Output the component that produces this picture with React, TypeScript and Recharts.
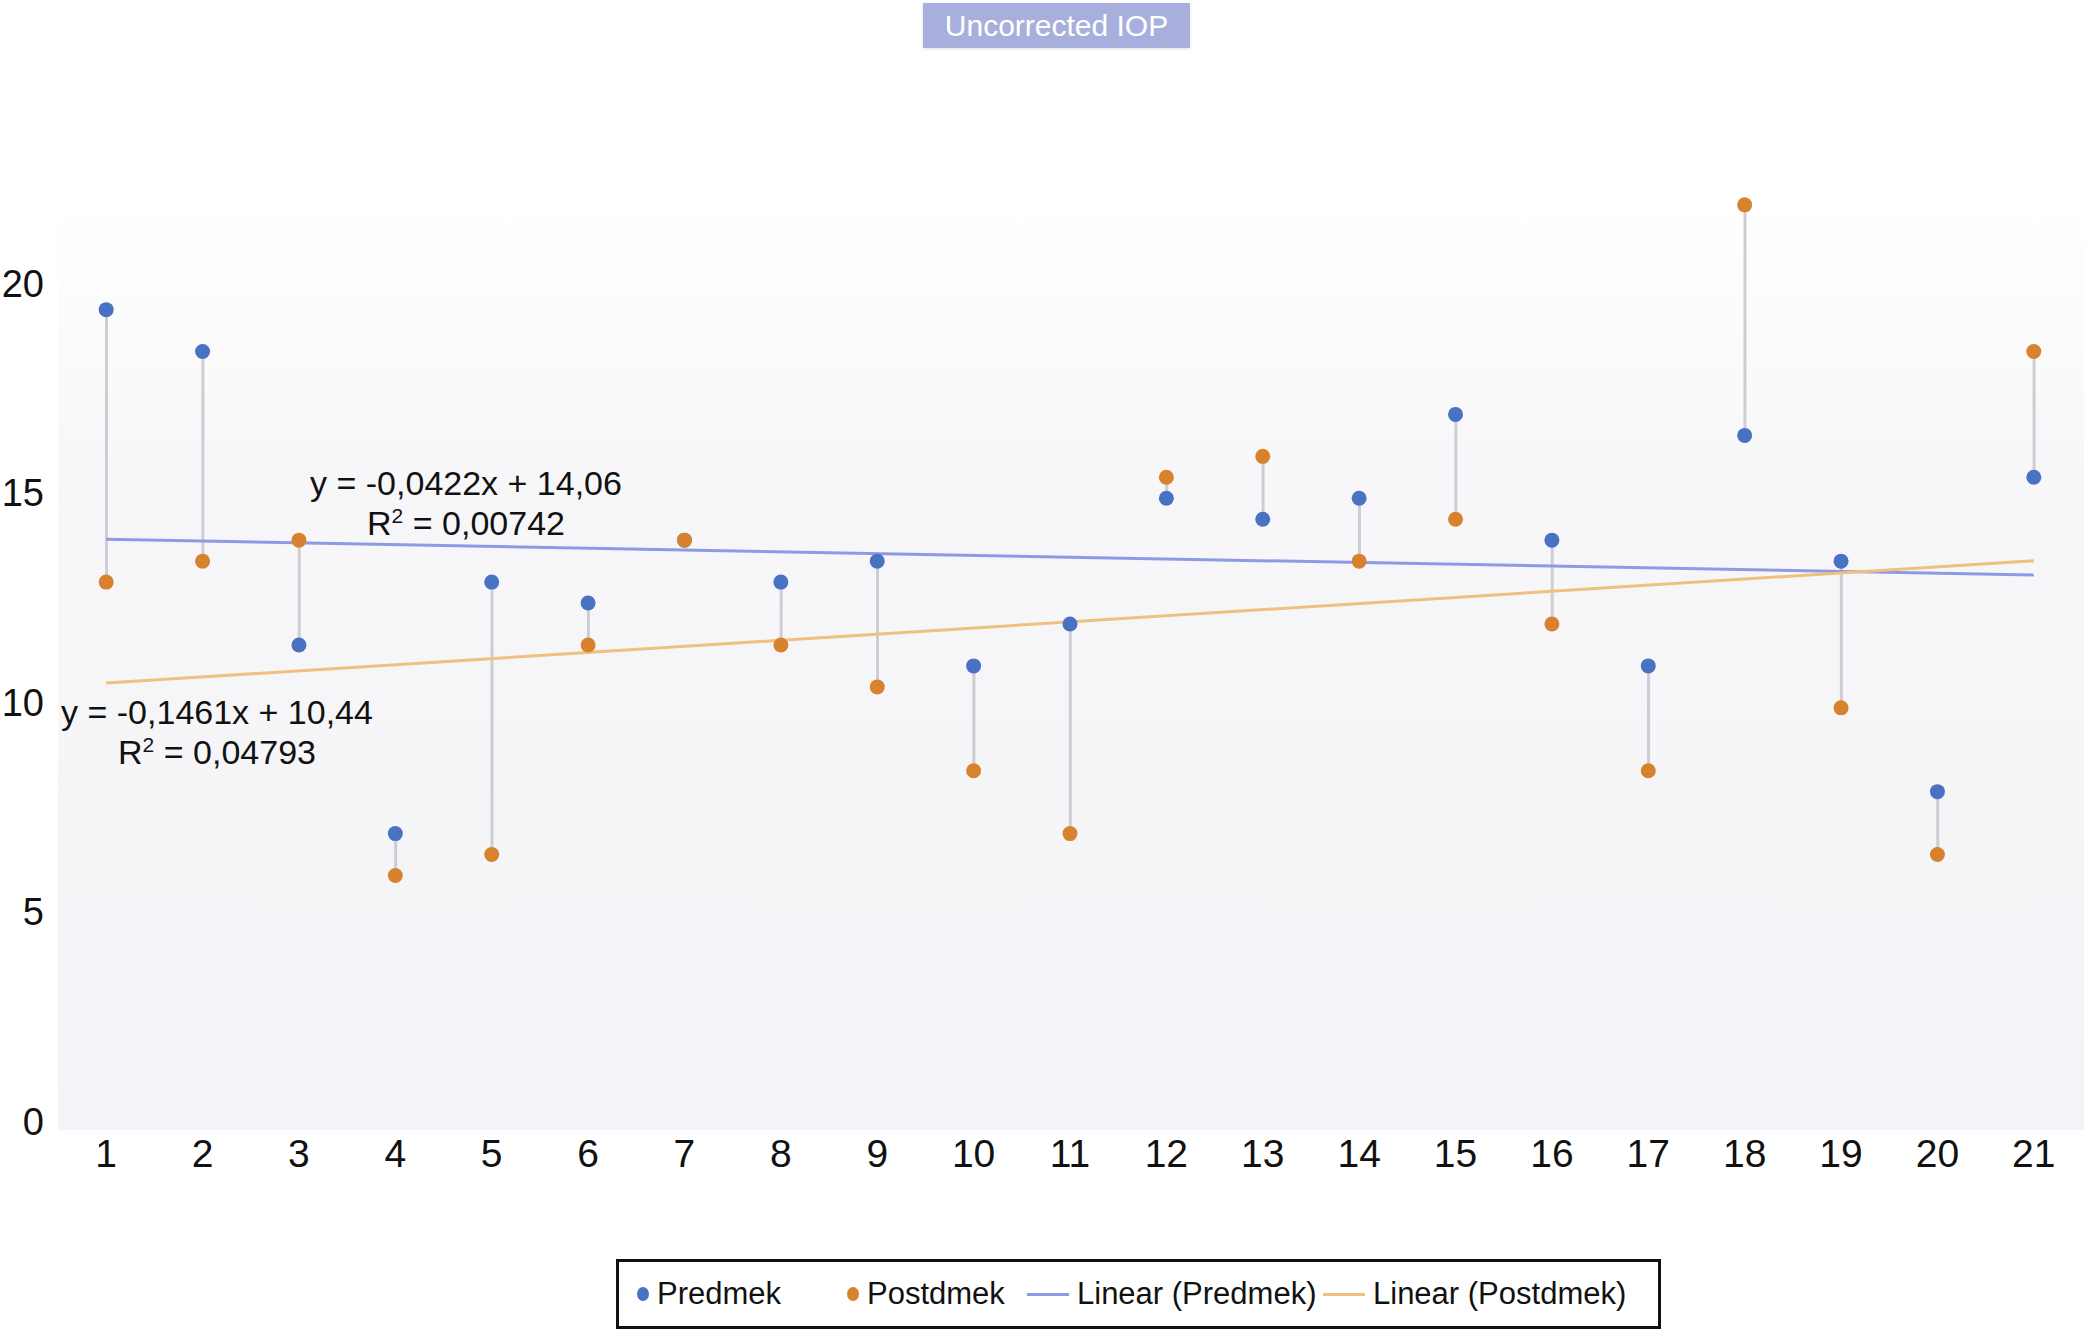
import React from 'react';
import { ComposedChart, XAxis, YAxis, Line, Bar, ReferenceLine } from 'recharts';

// values
const categories = [1, 2, 3, 4, 5, 6, 7, 8, 9, 10, 11, 12, 13, 14, 15, 16, 17, 18, 19, 20, 21];
const predmek = [19.5, 18.5, 11.5, 7, 13, 12.5, 14, 13, 13.5, 11, 12, 15, 14.5, 15, 17, 14, 11, 16.5, 13.5, 8, 15.5];
const postdmek = [13, 13.5, 14, 6, 6.5, 11.5, 14, 11.5, 10.5, 8.5, 7, 15.5, 16, 13.5, 14.5, 12, 8.5, 22, 10, 6.5, 18.5];
const yTicks = [0, 5, 10, 15, 20];

// trend line end points (x = 1 and x = 21)
const trendPredmek = [14.02, 13.17];
const trendPostdmek = [10.59, 13.51];

const BLUE = '#4a72c2';
const ORANGE = '#d8822d';
const BLUE_LINE = '#8e9ae4';
const ORANGE_LINE = '#f0c17e';
const FONT = '"Liberation Sans", Arial, Helvetica, sans-serif';

const data = categories.map((c, i) => ({
  x: c,
  pre: predmek[i],
  post: postdmek[i],
  span: [Math.min(predmek[i], postdmek[i]), Math.max(predmek[i], postdmek[i])],
}));

const XTick = (props: any) => {
  const { x, y, payload } = props;
  return (
    <text x={x} y={y + 40} textAnchor="middle" fontSize={39} fontFamily={FONT} fill="#111">
      {payload.value}
    </text>
  );
};

const YTick = (props: any) => {
  const { x, y, payload } = props;
  return (
    <text x={x} y={y + 8} textAnchor="end" fontSize={38} fontFamily={FONT} fill="#111">
      {payload.value}
    </text>
  );
};

const Equation = ({ cx, top, line1, r2 }: { cx: number; top: number; line1: string; r2: string }) => (
  <div style={{ position: 'absolute', left: cx, top, transform: 'translateX(-50%)', textAlign: 'center', fontFamily: FONT, fontSize: 34, lineHeight: '40px', color: '#111', whiteSpace: 'nowrap' }}>
    <div>{line1}</div>
    <div>
      R<sup style={{ fontSize: 21, lineHeight: 0, verticalAlign: 'super' }}>2</sup> = {r2}
    </div>
  </div>
);

const LegendBox = () => {
  const item = { position: 'absolute' as const, top: 0, height: 64, display: 'flex', alignItems: 'center', fontSize: 31, fontFamily: FONT, color: '#111', whiteSpace: 'nowrap' as const };
  const dot = (c: string) => <span style={{ display: 'inline-block', width: 12, height: 14, borderRadius: '50%', background: c, marginRight: 8 }} />;
  const line = (c: string) => <span style={{ display: 'inline-block', width: 42, height: 3, background: c, marginRight: 8 }} />;
  return (
    <div style={{ position: 'absolute', left: 616, top: 1259, width: 1039, height: 64, border: '3px solid #111', background: '#fff' }}>
      <div style={{ ...item, left: 18 }}>{dot(BLUE)}Predmek</div>
      <div style={{ ...item, left: 228 }}>{dot(ORANGE)}Postdmek</div>
      <div style={{ ...item, left: 408 }}>{line(BLUE_LINE)}Linear (Predmek)</div>
      <div style={{ ...item, left: 704 }}>{line(ORANGE_LINE)}Linear (Postdmek)</div>
    </div>
  );
};

export default function App() {
  return (
    <div style={{ position: 'relative', width: 2090, height: 1340, background: '#fff', overflow: 'hidden' }}>
      <style>{'body{margin:0}'}</style>
      {/* plot background fading from white to light grey */}
      <div style={{ position: 'absolute', left: 58, top: 200, width: 2026, height: 930, background: 'linear-gradient(to bottom, rgba(246,247,250,0) 0%, #f7f7f9 30%, #f3f4f7 100%)' }} />
      <div style={{ position: 'absolute', left: 923, top: 3, width: 267, height: 45, background: '#a9afdd', color: '#fff', fontFamily: FONT, fontSize: 30, lineHeight: '45px', textAlign: 'center', boxShadow: '0 1px 3px rgba(0,0,0,0.12)' }}>
        Uncorrected IOP
      </div>
      <div style={{ position: 'absolute', left: 0, top: 0 }}>
        <ComposedChart width={2090} height={1340} data={data} margin={{ top: 121, right: 8, bottom: 153, left: 0 }}>
          <XAxis dataKey="x" type="category" axisLine={false} tickLine={false} tickSize={0} tickMargin={0} height={60} tick={<XTick />} interval={0} />
          <YAxis type="number" domain={[0, 24]} ticks={yTicks} axisLine={false} tickLine={false} tickSize={0} tickMargin={14} width={58} tick={<YTick />} />
          <Bar dataKey="span" barSize={3} fill="#cdcdd4" isAnimationActive={false} />
          <ReferenceLine segment={[{ x: categories[0], y: trendPredmek[0] }, { x: categories[20], y: trendPredmek[1] }]} stroke={BLUE_LINE} strokeWidth={3} />
          <ReferenceLine segment={[{ x: categories[0], y: trendPostdmek[0] }, { x: categories[20], y: trendPostdmek[1] }]} stroke={ORANGE_LINE} strokeWidth={3} />
          <Line dataKey="pre" stroke="none" dot={{ r: 7.5, fill: BLUE, stroke: 'none' }} activeDot={false} isAnimationActive={false} />
          <Line dataKey="post" stroke="none" dot={{ r: 7.5, fill: ORANGE, stroke: 'none' }} activeDot={false} isAnimationActive={false} />
        </ComposedChart>
      </div>
      <Equation cx={466} top={463} line1="y = -0,0422x + 14,06" r2="0,00742" />
      <Equation cx={217} top={692} line1="y = -0,1461x + 10,44" r2="0,04793" />
      <LegendBox />
    </div>
  );
}
